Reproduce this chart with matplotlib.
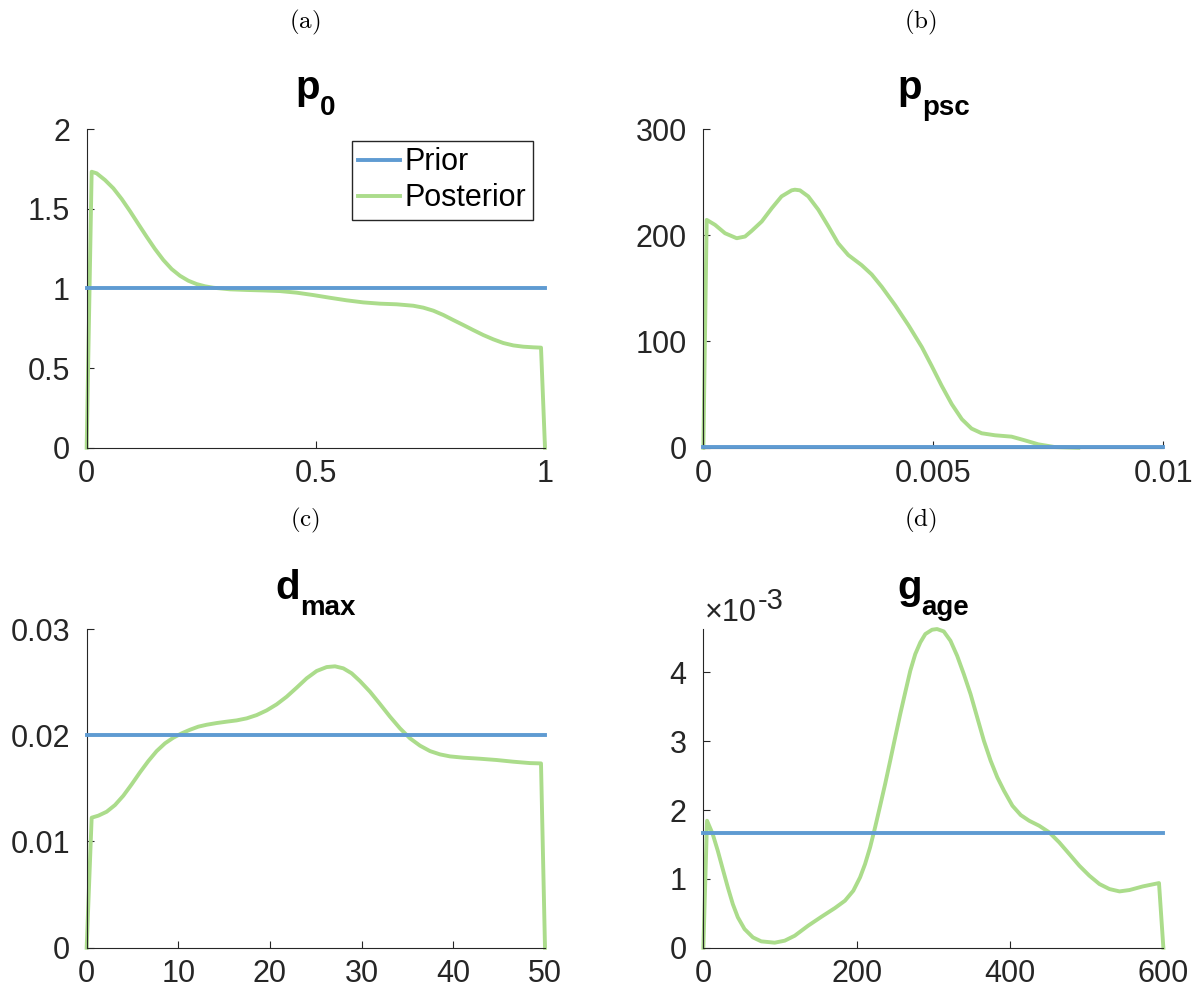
import matplotlib
matplotlib.use('Agg')
import matplotlib.pyplot as plt
from matplotlib.ticker import FuncFormatter, FixedLocator
from matplotlib.transforms import offset_copy

plt.rcParams['font.family'] = ['Liberation Sans', 'DejaVu Sans']

# ---------------- data ----------------
panel_labels = ['(a)', '(b)', '(c)', '(d)']
title_main = ['p', 'p', 'd', 'g']
title_sub = ['0', 'psc', 'max', 'age']
legend_labels = ['Prior', 'Posterior']

# (a) p0
p0_prior_x = [0, 1]
p0_prior_y = [1, 1]
p0_post_x = [0, 0.0109, 0.0218, 0.04, 0.0582, 0.0764, 0.0945, 0.1127, 0.1309, 0.1491,
             0.1673, 0.1855, 0.2036, 0.2218, 0.24, 0.2582, 0.2764, 0.3127, 0.3491,
             0.3855, 0.4218, 0.4582, 0.4945, 0.5309, 0.5673, 0.6036, 0.64, 0.6764,
             0.7127, 0.7345, 0.7564, 0.7782, 0.8, 0.8218, 0.8436, 0.8655, 0.8873,
             0.9091, 0.9309, 0.9527, 0.9745, 0.9913, 1.0]
p0_post_y = [0, 1.732, 1.722, 1.680, 1.628, 1.561, 1.485, 1.404, 1.324, 1.247, 1.178,
             1.121, 1.079, 1.048, 1.027, 1.013, 1.004, 0.994, 0.990, 0.987, 0.983,
             0.973, 0.958, 0.941, 0.925, 0.912, 0.904, 0.900, 0.891, 0.879, 0.860,
             0.833, 0.801, 0.770, 0.738, 0.707, 0.680, 0.657, 0.642, 0.634, 0.630,
             0.628, 0]

# (b) p_psc
ppsc_prior_x = [0, 0.01]
ppsc_prior_y = [1, 1]
ppsc_post_x = [0, 0.0000725, 0.000254, 0.000471, 0.000725, 0.000906, 0.00105, 0.00127,
               0.00149, 0.0017, 0.00192, 0.00199, 0.0021, 0.00228, 0.0025, 0.00272,
               0.00293, 0.00315, 0.00344, 0.00366, 0.00388, 0.00417, 0.00446, 0.00475,
               0.00496, 0.00518, 0.0054, 0.00562, 0.00583, 0.00605, 0.00634, 0.0067,
               0.00699, 0.00728, 0.00764, 0.00815]
ppsc_post_y = [0, 214.5, 209.8, 201.9, 197.2, 198.8, 204.1, 213.0, 225.6, 236.6, 242.3,
               242.9, 242.3, 236.6, 224.0, 208.2, 192.5, 181.4, 171.9, 163.1, 151.4,
               134.1, 115.2, 94.7, 77.3, 58.4, 41.0, 26.8, 18.0, 13.6, 11.7, 10.4, 6.9,
               3.2, 0.6, 0]

# (c) d_max
dmax_prior_x = [0, 50]
dmax_prior_y = [0.02, 0.02]
dmax_post_x = [0, 0.545, 1.273, 2.182, 3.091, 4.0, 4.909, 5.818, 6.727, 7.636, 8.545,
               9.455, 10.364, 11.273, 12.182, 13.091, 14.182, 15.273, 16.364, 17.455,
               18.545, 19.636, 20.727, 21.818, 22.909, 24.0, 25.091, 26.182, 27.091,
               28.0, 28.909, 29.818, 30.909, 32.0, 33.091, 34.182, 35.273, 36.364,
               37.455, 38.545, 39.636, 41.091, 42.909, 44.727, 46.545, 48.364, 49.564,
               50]
dmax_post_y = [0, 0.01224, 0.01243, 0.01280, 0.01343, 0.01431, 0.01538, 0.01651,
               0.01757, 0.01851, 0.01924, 0.01977, 0.02018, 0.02052, 0.02081, 0.02099,
               0.02115, 0.02128, 0.02140, 0.02159, 0.02190, 0.02234, 0.02291, 0.02363,
               0.02448, 0.02536, 0.02605, 0.02642, 0.02649, 0.02630, 0.02583, 0.02510,
               0.02410, 0.02294, 0.02175, 0.02065, 0.01971, 0.01902, 0.01851, 0.01820,
               0.01801, 0.01789, 0.01779, 0.01767, 0.01751, 0.01738, 0.01735, 0]

# (d) g_age  (values in units of 1e-3)
gage_scale = 1e-3
gage_prior_x = [0, 600]
gage_prior_y = [1.6667, 1.6667]
gage_post_x = [0, 4.8, 12.2, 18.8, 25.3, 31.9, 38.4, 45.0, 53.7, 64.6, 75.5, 93.0,
               106.1, 119.2, 136.7, 154.1, 171.6, 184.7, 195.6, 204.4, 210.9, 217.5,
               224.0, 230.6, 237.1, 243.7, 250.2, 256.8, 263.3, 269.9, 276.4, 283.0,
               289.5, 298.3, 304.8, 313.5, 322.3, 331.0, 339.7, 348.5, 357.2, 365.9,
               374.7, 383.4, 392.1, 403.1, 414.0, 424.9, 438.0, 451.1, 464.2, 477.3,
               490.4, 503.5, 516.6, 529.7, 542.8, 555.9, 573.4, 594.3, 600]
gage_post_y = [0, 1.845, 1.651, 1.409, 1.143, 0.877, 0.634, 0.441, 0.271, 0.150, 0.092,
               0.073, 0.102, 0.174, 0.320, 0.450, 0.576, 0.683, 0.828, 1.022, 1.215,
               1.458, 1.748, 2.063, 2.378, 2.717, 3.056, 3.395, 3.709, 4.024, 4.266,
               4.436, 4.557, 4.620, 4.630, 4.596, 4.460, 4.242, 3.976, 3.685, 3.346,
               3.007, 2.717, 2.475, 2.281, 2.063, 1.927, 1.845, 1.772, 1.676, 1.530,
               1.361, 1.191, 1.046, 0.925, 0.852, 0.818, 0.838, 0.891, 0.939, 0]

xticks = [[0, 0.5, 1], [0, 0.005, 0.01], [0, 10, 20, 30, 40, 50], [0, 200, 400, 600]]
yticks = [[0, 0.5, 1, 1.5, 2], [0, 100, 200, 300], [0, 0.01, 0.02, 0.03],
          [0, 1e-3, 2e-3, 3e-3, 4e-3]]
xlims = [(0, 1), (0, 0.01), (0, 50), (0, 600)]
ylims = [(0, 2), (0, 300), (0, 0.03), (0, 4.63e-3)]

PRIOR_COLOR = '#5f9bd2'
POST_COLOR = '#abdc8b'
TICK_COLOR = '#262626'
LW = 2.8
TICK_FS = 22
TITLE_FS = 29
SUB_FS = 20

fig = plt.figure(figsize=(11.97, 9.98), dpi=100)
renderer = fig.canvas.get_renderer()

positions = [
    [0.0724, 0.5514, 0.3829, 0.3193],
    [0.5876, 0.5514, 0.3843, 0.3193],
    [0.0724, 0.0504, 0.3829, 0.3193],
    [0.5876, 0.0504, 0.3843, 0.3193],
]

data = [
    (p0_prior_x, p0_prior_y, p0_post_x, p0_post_y, 1.0),
    (ppsc_prior_x, ppsc_prior_y, ppsc_post_x, ppsc_post_y, 1.0),
    (dmax_prior_x, dmax_prior_y, dmax_post_x, dmax_post_y, 1.0),
    (gage_prior_x, gage_prior_y, gage_post_x, gage_post_y, gage_scale),
]

label_pos = [(0.2548, 0.978), (0.7686, 0.978), (0.2548, 0.479), (0.7686, 0.479)]

fmt_g = FuncFormatter(lambda v, p: ('%g' % v))
fmt_e3 = FuncFormatter(lambda v, p: ('%g' % round(v / gage_scale, 6)))


def two_part(ax, main, sub, x_anchor, main_fs, sub_fs, main_dy, sub_dy, weight,
             center=True, x_off=0):
    t1 = ax.text(0, 0, main, fontsize=main_fs, fontweight=weight, color=TICK_COLOR if weight == 'normal' else 'black')
    t2 = ax.text(0, 0, sub, fontsize=sub_fs, fontweight=weight, color=TICK_COLOR if weight == 'normal' else 'black')
    w1 = t1.get_window_extent(renderer).width
    w2 = t2.get_window_extent(renderer).width
    start = -(w1 + w2) / 2 if center else 0
    start += x_off
    t1.set_transform(offset_copy(ax.transAxes, fig=fig, x=start, y=main_dy, units='dots'))
    t1.set_position((x_anchor, 1.0))
    t1.set_ha('left'); t1.set_va('baseline')
    t2.set_transform(offset_copy(ax.transAxes, fig=fig, x=start + w1, y=sub_dy, units='dots'))
    t2.set_position((x_anchor, 1.0))
    t2.set_ha('left'); t2.set_va('baseline')
    t1.set_clip_on(False); t2.set_clip_on(False)


for i in range(4):
    ax = fig.add_axes(positions[i])
    prx, pry, pox, poy, sc = data[i]
    lpost, = ax.plot(pox, [v * sc for v in poy], color=POST_COLOR, lw=LW, clip_on=False,
                     zorder=2, solid_joinstyle='round')
    lprior, = ax.plot(prx, [v * sc for v in pry], color=PRIOR_COLOR, lw=LW, clip_on=False,
                      zorder=3)
    ax.set_xlim(*xlims[i])
    ax.set_ylim(*ylims[i])
    ax.xaxis.set_major_locator(FixedLocator(xticks[i]))
    ax.yaxis.set_major_locator(FixedLocator(yticks[i]))
    ax.xaxis.set_major_formatter(fmt_g)
    ax.yaxis.set_major_formatter(fmt_e3 if i == 3 else fmt_g)
    for s in ['top', 'right']:
        ax.spines[s].set_visible(False)
    for s in ['left', 'bottom']:
        ax.spines[s].set_color(TICK_COLOR)
        ax.spines[s].set_linewidth(0.8)
    ax.tick_params(direction='in', length=5, width=0.8, colors=TICK_COLOR,
                   labelsize=TICK_FS)
    ax.tick_params(axis='y', pad=12)
    ax.tick_params(axis='x', pad=8)
    # title: bold main letter with lowered subscript
    two_part(ax, title_main[i], title_sub[i], 0.5, TITLE_FS, SUB_FS, 30, 14, 'bold')
    fig.text(label_pos[i][0], label_pos[i][1], r'$\mathrm{' + panel_labels[i] + '}$',
             fontsize=18, ha='center', va='center', math_fontfamily='cm')
    if i == 0:
        leg = ax.legend([lprior, lpost], legend_labels, loc='upper right',
                        fontsize=TICK_FS, frameon=True, fancybox=False,
                        framealpha=1, edgecolor='#262626', handlelength=1.35,
                        handletextpad=0.17, borderpad=0.2, labelspacing=0.2,
                        borderaxespad=0.4)
        leg.get_frame().set_linewidth(1.0)
    if i == 3:
        two_part(ax, '\u00d710', '-3', 0.0, TICK_FS, 21, 8, 20, 'normal',
                 center=False, x_off=2)

fig.savefig('out.png', dpi=100)
